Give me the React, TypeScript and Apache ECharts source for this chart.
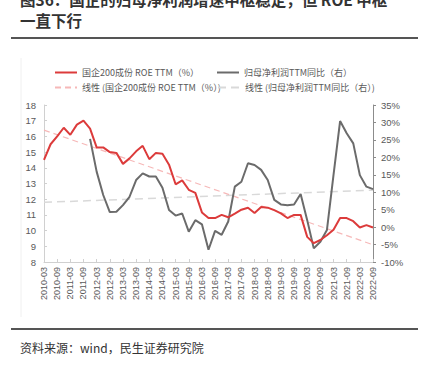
import React, { useEffect, useRef } from "react";
import * as echarts from "echarts";

const categories = [
  "2010-03","2010-06","2010-09","2010-12","2011-03","2011-06","2011-09","2011-12",
  "2012-03","2012-06","2012-09","2012-12","2013-03","2013-06","2013-09","2013-12",
  "2014-03","2014-06","2014-09","2014-12","2015-03","2015-06","2015-09","2015-12",
  "2016-03","2016-06","2016-09","2016-12","2017-03","2017-06","2017-09","2017-12",
  "2018-03","2018-06","2018-09","2018-12","2019-03","2019-06","2019-09","2019-12",
  "2020-03","2020-06","2020-09","2020-12","2021-03","2021-06","2021-09","2021-12",
  "2022-03","2022-06","2022-09",
];

const roeTTM = [
  14.5, 15.5, 16.0, 16.55, 16.1, 16.75, 17.0, 16.5,
  15.3, 15.3, 15.0, 14.95, 14.25, 14.6, 15.05, 15.4,
  14.55, 14.95, 14.9, 14.2, 12.95, 13.2, 12.6, 12.4,
  11.16, 10.8, 10.8, 11.0, 10.85, 11.08, 11.33, 11.46,
  11.12, 11.5, 11.46, 11.3, 11.1, 10.8, 11.0, 11.0,
  9.6, 9.2, 9.4, 9.7, 10.05, 10.8, 10.8, 10.6,
  10.2, 10.35, 10.2,
];

const profitYoY = [
  null, null, null, null, null, null, null, 25.3,
  15.9, 9.2, 4.3, 4.4, 6.3, 8.7, 13.5, 15.4,
  14.5, 14.5, 11.3, 4.9, 3.3, 3.9, -1.3, 2.0,
  0.8, -6.5, -1.1, -2.2, 1.6, 11.6, 13.0, 18.3,
  17.8, 16.4, 13.5, 7.8, 6.5, 6.3, 6.5, 9.5,
  2.0, -6.1, -4.2, -0.8, 15.0, 30.4, 26.9, 24.0,
  14.9, 11.6, 10.9,
];

// trend line end points (start, end)
const roeTrend = [16.4, 9.1];
const profitTrend = [7.1, 10.6];

const names = [
  "国企200成份 ROE TTM（%）",
  "归母净利润TTM同比（右）",
  "线性 (国企200成份 ROE TTM（%）)",
  "线性 (归母净利润TTM同比（右）)",
];

const titleLines = ["图36：国企的归母净利润增速中枢稳定，但 ROE 中枢", "一直下行"];
const sourceText = "资料来源：wind，民生证券研究院";

export default function App() {
  const ref = useRef<HTMLDivElement>(null);
  useEffect(() => {
    document.body.style.margin = "0";
    if (!ref.current) return;
    const chart = echarts.init(ref.current, null, { renderer: "svg" });
    const font = "'Noto Sans CJK SC', 'Noto Sans', sans-serif";
    const numFont = "'Liberation Sans', 'Noto Sans', sans-serif";
    const legendText = { fontSize: 9, color: "#595959", fontFamily: font };
    const mkLegend = (name: string, left: number, top: number) => ({
      data: [name],
      left,
      top,
      padding: 0,
      itemWidth: 22,
      itemHeight: 10,
      itemGap: 0,
      itemStyle: { opacity: 0 },
      textStyle: legendText,
      selectedMode: false,
    });
    const last = categories.length - 1;
    chart.setOption({
      animation: false,
      backgroundColor: "#ffffff",
      legend: [
        mkLegend(names[0], 54, 68),
        mkLegend(names[1], 216, 68),
        mkLegend(names[2], 54, 83),
        mkLegend(names[3], 217, 83),
      ],
      grid: { left: 44, right: 49, top: 105, bottom: 105, containLabel: false },
      xAxis: {
        type: "category",
        data: categories,
        boundaryGap: false,
        axisLine: { onZero: false, lineStyle: { color: "#d0d0d0", width: 1 } },
        axisTick: { interval: 1, inside: true, length: 3, lineStyle: { color: "#d0d0d0" } },
        axisLabel: {
          interval: 1,
          rotate: 90,
          fontSize: 9,
          color: "#595959",
          fontFamily: numFont,
          margin: 5,
        },
      },
      yAxis: [
        {
          type: "value",
          min: 8,
          max: 18,
          interval: 1,
          splitLine: { show: false },
          axisLine: { show: true, lineStyle: { color: "#d0d0d0" } },
          axisTick: { show: true, inside: true, length: 3, lineStyle: { color: "#d0d0d0" } },
          axisLabel: { fontSize: 9.5, color: "#595959", fontFamily: numFont, margin: 8 },
        },
        {
          type: "value",
          min: -10,
          max: 35,
          interval: 5,
          position: "right",
          splitLine: { show: false },
          axisLine: { show: true, lineStyle: { color: "#8c8c8c" } },
          axisTick: { show: true, length: 3, lineStyle: { color: "#8c8c8c" } },
          axisLabel: {
            fontSize: 9.5,
            color: "#595959",
            fontFamily: numFont,
            margin: 8,
            formatter: "{value}%",
          },
        },
      ],
      series: [
        {
          name: names[0],
          type: "line",
          data: roeTTM,
          yAxisIndex: 0,
          symbol: "none",
          lineStyle: { color: "#dc3b3b", width: 2 },
          itemStyle: { color: "#dc3b3b" },
          z: 4,
        },
        {
          name: names[1],
          type: "line",
          data: profitYoY,
          yAxisIndex: 1,
          symbol: "none",
          lineStyle: { color: "#6b6b6b", width: 2 },
          itemStyle: { color: "#6b6b6b" },
          z: 3,
        },
        {
          name: names[2],
          type: "line",
          data: [
            [categories[0], roeTrend[0]],
            [categories[last], roeTrend[1]],
          ],
          yAxisIndex: 0,
          symbol: "none",
          lineStyle: { color: "#f6b8b8", width: 1.2, type: [6, 4] },
          itemStyle: { color: "#f6b8b8" },
          z: 2,
        },
        {
          name: names[3],
          type: "line",
          data: [
            [categories[0], profitTrend[0]],
            [categories[last], profitTrend[1]],
          ],
          yAxisIndex: 1,
          symbol: "none",
          lineStyle: { color: "#d9d9d9", width: 1.5, type: [8, 5] },
          itemStyle: { color: "#d9d9d9" },
          z: 1,
        },
      ],
      graphic: [
        {
          type: "text",
          left: 20,
          top: -9,
          style: {
            text: titleLines[0],
            fontSize: 15.5,
            fontWeight: "bold",
            fill: "#333333",
            fontFamily: font,
          },
        },
        {
          type: "text",
          left: 20,
          top: 12,
          style: {
            text: titleLines[1],
            fontSize: 15.5,
            fontWeight: "bold",
            fill: "#333333",
            fontFamily: font,
          },
        },
        {
          type: "line",
          shape: { x1: 11, y1: 38, x2: 418, y2: 38 },
          style: { stroke: "#555555", lineWidth: 2 },
        },
        {
          type: "line",
          shape: { x1: 21, y1: 58, x2: 21, y2: 317 },
          style: { stroke: "#f0f0f0", lineWidth: 1 },
        },
        {
          type: "line",
          shape: { x1: 11, y1: 329, x2: 418, y2: 329 },
          style: { stroke: "#555555", lineWidth: 2 },
        },
        {
          type: "text",
          left: 20,
          top: 341,
          style: {
            text: sourceText,
            fontSize: 12,
            fill: "#333333",
            fontFamily: font,
          },
        },
      ],
    });
    return () => chart.dispose();
  }, []);
  return <div ref={ref} style={{ width: 422, height: 367 }} />;
}
